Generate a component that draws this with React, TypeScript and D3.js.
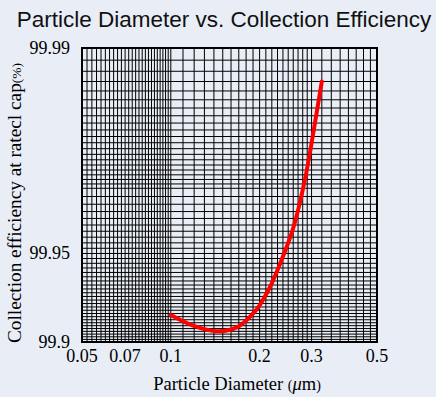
import React from "react";
import * as d3 from "d3";

const diameters = [0.1, 0.119, 0.143, 0.168, 0.19, 0.2, 0.217, 0.235, 0.26, 0.285, 0.308, 0.325];
const efficiency = [99.919, 99.912, 99.908, 99.911, 99.92, 99.925, 99.935, 99.946, 99.959, 99.972, 99.982, 99.987];
const xTicks = [0.05, 0.07, 0.1, 0.2, 0.3, 0.5];
const yTicks = [99.9, 99.95, 99.99];

const W = 436, H = 397;
const L = 82, R = 377, T = 48, B = 342;

export default function App() {
  const x = d3.scaleLog().domain([0.05, 0.5]).range([L, R]);
  // probability-like axis: log of penetration (100 - efficiency)
  const yp = d3.scaleLog().domain([0.01, 0.1]).range([T, B]);
  const y = (e: number) => yp(100 - e);

  const vGrid: number[] = [];
  for (let v = 0.05; v <= 0.1 + 1e-9; v += 0.002) vGrid.push(v);
  for (let v = 0.11; v <= 0.3 + 1e-9; v += 0.01) vGrid.push(v);
  for (let v = 0.325; v <= 0.5 + 1e-9; v += 0.025) vGrid.push(v);

  const hGrid: number[] = [];
  for (let p = 0.01; p <= 0.03 + 1e-9; p += 0.001) hGrid.push(p);
  for (let p = 0.032; p <= 0.1 + 1e-9; p += 0.002) hGrid.push(p);

  const line = d3
    .line<number>()
    .x((_, i) => x(diameters[i]))
    .y((d) => y(d))
    .curve(d3.curveCatmullRom.alpha(0.5));

  const serif = "'Liberation Serif', 'DejaVu Serif', serif";

  return (
    <svg width={W} height={H} style={{ position: "absolute", left: 0, top: 0, background: "#e9eef6" }}>
      <rect x={0} y={0} width={W} height={H} fill="#e9eef6" />
      <text x={224} y={27} textAnchor="middle" fontFamily="'Liberation Sans', Arial, sans-serif" fontSize={22.5} fill="#111">
        Particle Diameter vs. Collection Efficiency
      </text>
      <g stroke="#000" strokeWidth={1}>
        {vGrid.map((v, i) => (
          <line key={"v" + i} x1={x(v)} x2={x(v)} y1={T} y2={B} />
        ))}
        {hGrid.map((p, i) => (
          <line key={"h" + i} x1={L} x2={R} y1={yp(p)} y2={yp(p)} />
        ))}
      </g>
      <rect x={L} y={T} width={R - L} height={B - T} fill="none" stroke="#000" strokeWidth={2} />
      <path d={line(efficiency) || ""} fill="none" stroke="#ff0000" strokeWidth={4} strokeLinecap="round" />
      {xTicks.map((t) => (
        <text key={"xt" + t} x={x(t)} y={362} textAnchor="middle" fontFamily={serif} fontSize={18} fill="#000">
          {String(t)}
        </text>
      ))}
      {yTicks.map((t) => (
        <text key={"yt" + t} x={70} y={y(t) + 6} textAnchor="end" fontFamily={serif} fontSize={18} fill="#000">
          {String(t)}
        </text>
      ))}
      <text x={237} y={390} textAnchor="middle" fontFamily={serif} fontSize={18.5} fill="#000">
        Particle Diameter <tspan fontSize={14}>(</tspan>
        <tspan fontStyle="italic">μ</tspan>
        <tspan>m</tspan>
        <tspan fontSize={14}>)</tspan>
      </text>
      <text
        transform={`translate(21,203) rotate(-90)`}
        textAnchor="middle"
        fontFamily={serif}
        fontSize={19.3}
        fill="#000"
      >
        Collection efficiency at ratecl cap<tspan fontSize={13.5}>(%)</tspan>
      </text>
    </svg>
  );
}
